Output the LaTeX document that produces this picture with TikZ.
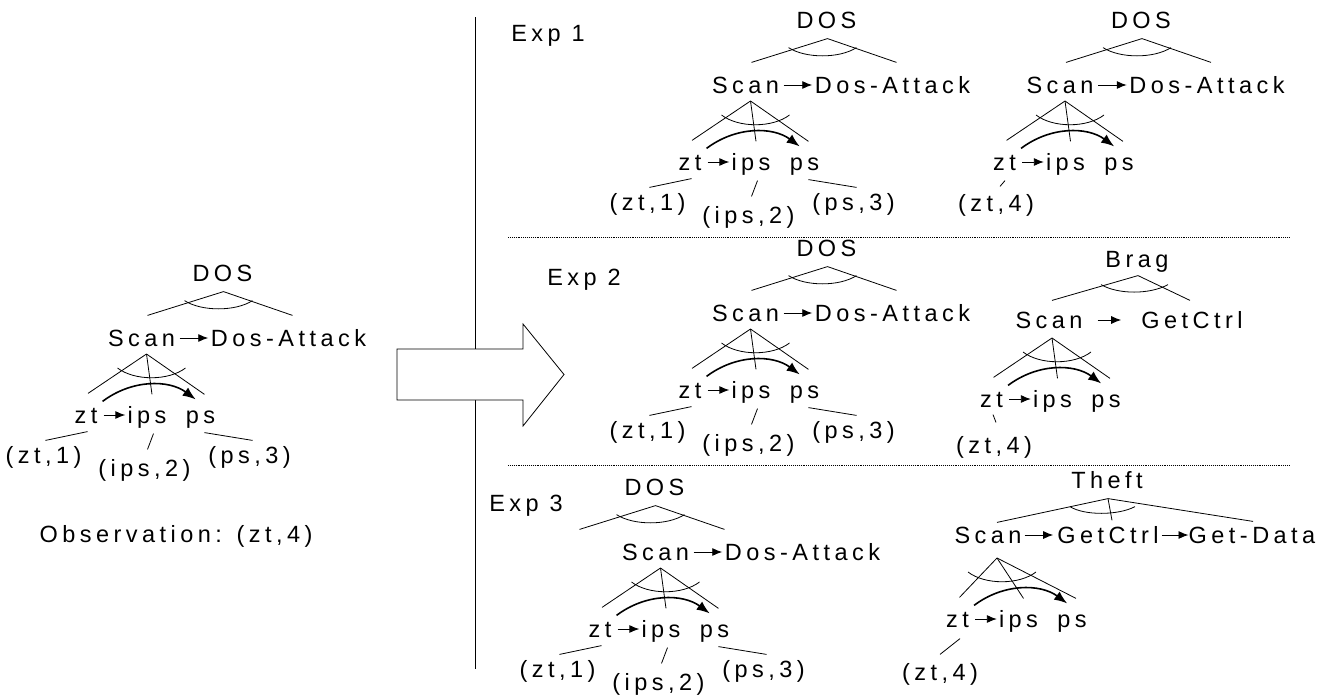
\documentclass[tikz,border=0pt]{standalone}
\usepackage{fontspec}
\newfontfamily\planfont{Liberation Sans}[LetterSpace=19]
\usetikzlibrary{arrows.meta}

\begin{document}
\begin{tikzpicture}[x=1pt, y=-1pt,
    every node/.style={font=\planfont\fontsize{23.5}{28}\selectfont,
                       inner sep=0pt, text height=16.8pt, text depth=0pt},
    link/.style={line width=0.8pt},
    seq/.style={line width=0.9pt, -{Latex[length=10pt,width=8pt]}},
    flow/.style={line width=1.6pt, -{Latex[length=13pt,width=10pt]}},
    rule/.style={line width=0.9pt, densely dotted},
    % DOS over Scan -> Dos-Attack, origin at Scan, #1 = shift of the goal part
    dosgoal/.pic={
      \node (-scan) at (0,0) {Scan};
      \node (-atk) at (147,0) {Dos-Attack};
      \draw[seq, shorten <=4.5pt, shorten >=2.5pt] (-scan) -- (-atk);
      \node (-goal) at (#1+81,-65) {DOS};
      \coordinate (-and) at ([shift={(1,10)}]-goal.south);
      \draw[link] ([shift={(#1+6,-14)}]-scan.north) -- (-and)
                  -- ([shift={(#1+4,-14)}]-atk.north);
      \draw[link] ([shift={(-39,9)}]-and) .. controls ([shift={(-22,20)}]-and)
                  and ([shift={(12,20)}]-and) .. ([shift={(29,9)}]-and);
    },
    % zt -> ips ps under Scan, #1 = x of the and-point
    steps/.pic={
      \node (-zt) at (-60.5,61) {zt};
      \node (-ips) at (0.5,61) {ips};
      \node (-ps) at (54,61) {ps};
      \coordinate (-and) at (#1,0);
      \draw[link] (-and) -- ([shift={(2,-13)}]-zt.north);
      \draw[link] (-and) -- ([shift={(5,-12)}]-ips.north);
      \draw[link] (-and) -- ([shift={(4,-12)}]-ps.north);
      \draw[link] ([shift={(-29,14)}]-and) .. controls ([shift={(-12,27)}]-and)
                  and ([shift={(22,27)}]-and) .. ([shift={(39,14)}]-and);
      \draw[seq, shorten <=6pt, shorten >=2pt] (-zt) -- (-ips);
      \draw[flow] ([shift={(5,-5)}]-zt.north east)
                  .. controls ([shift={(34,-27)}]-zt.north east)
                  and ([shift={(-17,-27)}]-ps.north west)
                  .. ([shift={(10,-7)}]-ps.north west);
    },
    % the three observations, same name as the steps pic above them
    outcomes/.pic={
      \node (-o1) at (-103,101) {(zt,1)};
      \node (-o2) at (-2,114) {(ips,2)};
      \node (-o3) at (103,101) {(ps,3)};
      \draw[link] ([shift={(1.5,8)}]-zt.south) -- ([shift={(2,-6)}]-o1.north);
      \draw[link] ([shift={(6.5,10)}]-ips.south) -- ([shift={(3,-10)}]-o2.north);
      \draw[link] ([shift={(4,9)}]-ps.south) -- ([shift={(3,-6)}]-o3.north);
    }]

\useasboundingbox (0,0) rectangle (1328,696);

% left: the plan library entry
\pic (L) at (141.5,338) {dosgoal=0};
\pic (Lo) at (146.5,354) {steps=0};
\pic (Lo) at (146.5,354) {outcomes};
\node (obs) at (176,534) {Observation: (zt,4)};

% divider and the big arrow
\draw[link] (475,17) -- (475,669);
\draw[link, fill=white] (397,349) -- (523,349) -- (523,324) -- (564,374.5)
    -- (523,426) -- (523,400) -- (397,400) -- cycle;

% Exp 1
\node (exp1) at (548,33) {Exp 1};
\pic (A) at (745.5,85) {dosgoal=0};
\pic (Ao) at (750.5,101) {steps=0};
\pic (Ao) at (750.5,101) {outcomes};
\pic (B) at (1060,85) {dosgoal=0};
\pic (Bo) at (1065,101) {steps=0};
\node (Bo-o1) at (996,203) {(zt,4)};
\draw[link] ([shift={(0.5,10)}]Bo-zt.south) -- ([shift={(4,-8)}]Bo-o1.north);

\draw[rule] (508,237) -- (1289,237);

% Exp 2
\node (exp2) at (584,277) {Exp 2};
\pic (C) at (745.5,313) {dosgoal=0};
\pic (Co) at (750.5,329) {steps=0};
\pic (Co) at (750.5,329) {outcomes};

\node (brag-scan) at (1049,320) {Scan};
\node (brag-ctrl) at (1192,320) {GetCtrl};
\draw[seq, shorten <=15pt, shorten >=20pt] (brag-scan) -- (brag-ctrl);
\node (brag) at (1137,259) {Brag};
\coordinate (brag-and) at ([shift={(1,8)}]brag.south);
\draw[link] ([shift={(3,-11)}]brag-scan.north) -- (brag-and)
    -- ([shift={(-2,-11)}]brag-ctrl.north);
\draw[link] ([shift={(-37,9)}]brag-and) .. controls ([shift={(-20,19)}]brag-and)
    and ([shift={(12,19)}]brag-and) .. ([shift={(30,9)}]brag-and);
\pic (Do) at (1052,338) {steps=0};
\node (Do-o1) at (994,445) {(zt,4)};
\draw[link] ([shift={(1.5,7)}]Do-zt.south) -- ([shift={(2,-14)}]Do-o1.north);

\draw[rule] (508,465) -- (1289,465);

% Exp 3
\node (exp3) at (526,503) {Exp 3};
\pic (E) at (655.5,552) {dosgoal=-82};
\pic (Eo) at (660.5,568) {steps=0};
\pic (Eo) at (660.5,568) {outcomes};

\node (theft-scan) at (988,535) {Scan};
\node (theft-ctrl) at (1108,535) {GetCtrl};
\node (theft-data) at (1252,535) {Get-Data};
\draw[seq, shorten <=3pt, shorten >=4pt] (theft-scan) -- (theft-ctrl);
\draw[seq, shorten <=3pt, shorten >=0pt] (theft-ctrl) -- (theft-data);
\node (theft) at (1107,480) {Theft};
\coordinate (theft-and) at ([shift={(1,10)}]theft.south);
\draw[link] ([shift={(9,-4)}]theft-scan.north) -- (theft-and)
    -- ([shift={(1,-5)}]theft-data.north);
\draw[link] (theft-and) -- ([shift={(4,-6)}]theft-ctrl.north);
\draw[link] ([shift={(-38,8)}]theft-and) .. controls ([shift={(-24,17)}]theft-and)
    and ([shift={(10,17)}]theft-and) .. ([shift={(27,8)}]theft-and);
\pic (Fo) at (1018,558) {steps=-21};
\node (Fo-o1) at (940,672) {(zt,4)};
\draw[link] ([shift={(2.5,11)}]Fo-zt.south) -- ([shift={(0,-9)}]Fo-o1.north);

\end{tikzpicture}
\end{document}
